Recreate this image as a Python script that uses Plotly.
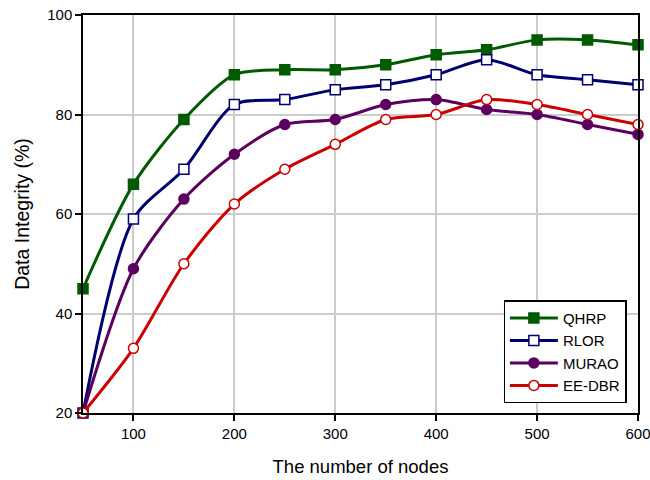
import plotly.graph_objects as go

nodes = [50, 100, 150, 200, 250, 300, 350, 400, 450, 500, 550, 600]
qhrp = [45, 66, 79, 88, 89, 89, 90, 92, 93, 95, 95, 94]
rlor = [20, 59, 69, 82, 83, 85, 86, 88, 91, 88, 87, 86]
murao = [20, 49, 63, 72, 78, 79, 82, 83, 81, 80, 78, 76]
eedbr = [20, 33, 50, 62, 69, 74, 79, 80, 83, 82, 80, 78]

series = [
    ("QHRP", qhrp, "#005a00", "square", "#005a00"),
    ("RLOR", rlor, "#000070", "square", "white"),
    ("MURAO", murao, "#5c0060", "circle", "#5c0060"),
    ("EE-DBR", eedbr, "#cc0000", "circle", "white"),
]

fig = go.Figure()
for name, vals, col, sym, fill in series:
    fig.add_trace(go.Scatter(
        x=nodes, y=vals, name=name, mode="lines+markers",
        line=dict(color=col, width=3, shape="spline", smoothing=0.8),
        marker=dict(symbol=sym, size=10, color=fill, line=dict(color=col, width=1.5)),
        cliponaxis=False,
    ))

axis_common = dict(
    showline=True, linecolor="black", linewidth=1.5, mirror=True,
    showgrid=True, gridcolor="#cccccc", gridwidth=1.5,
    ticks="outside", ticklen=6, tickcolor="black", tickwidth=1.5,
    tickfont=dict(family="Liberation Sans, Arial", size=15, color="black"),
    zeroline=False, automargin=False, ticklabeloverflow="allow",
)

fig.update_layout(
    width=650, height=480,
    margin=dict(l=83, r=12, t=15, b=67),
    plot_bgcolor="white", paper_bgcolor="white",
    font=dict(family="Liberation Sans, Arial", color="black"),
    xaxis=dict(range=[50, 600], tickvals=[100, 200, 300, 400, 500, 600],
               title=dict(text="The number of nodes", font=dict(size=18.5), standoff=19),
               **axis_common),
    yaxis=dict(range=[20, 100], tickvals=[20, 40, 60, 80, 100],
               title=dict(text="Data Integrity (%)", font=dict(size=19.5), standoff=12),
               **axis_common),
    legend=dict(x=0.758, y=0.024, xanchor="left", yanchor="bottom",
                bordercolor="black", borderwidth=1.2, bgcolor="white",
                font=dict(size=15, family="Liberation Sans, Arial"),
                tracegroupgap=0, itemwidth=48),
    showlegend=True,
)

fig.write_html("out.html")
